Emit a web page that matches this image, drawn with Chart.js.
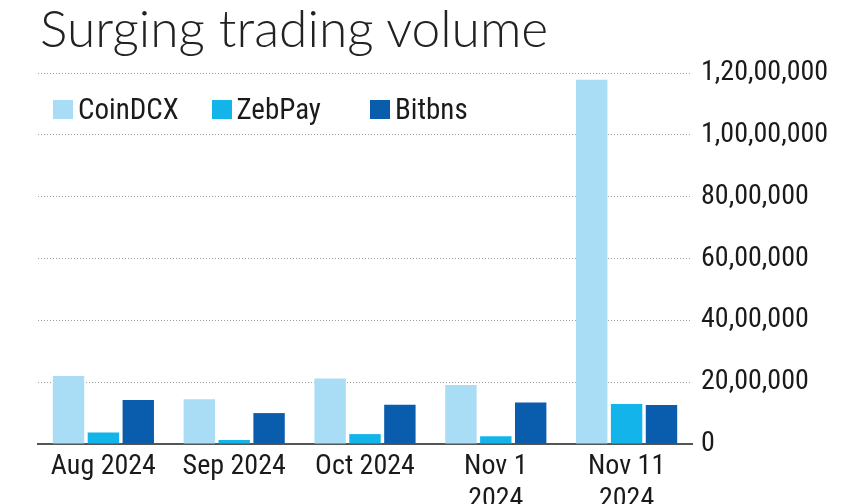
<!DOCTYPE html>
<html>
<head>
<meta charset="utf-8">
<script src="https://cdn.jsdelivr.net/npm/chart.js@4.4.1/dist/chart.umd.min.js"></script>
<style>
  html, body { margin: 0; padding: 0; background: #ffffff; }
  #wrap { position: relative; width: 852px; height: 504px; overflow: hidden; }
  #title { position: absolute; left: 40px; top: -1px; font-family: Lato, "Open Sans", sans-serif; font-weight: 300; font-size: 51.5px; line-height: 1.1; color: #222; white-space: nowrap; }
  #legend { position: absolute; left: 53px; top: 89px; height: 40px; width: 480px; font-family: "Liberation Sans Narrow", "Roboto Condensed", "DejaVu Sans Condensed", sans-serif; font-size: 29px; color: #1a1a1a; }
  .item { position: absolute; top: 0; height: 40px; display: flex; align-items: center; width: 158px; }
  .box { width: 20px; height: 19px; margin-right: 5px; flex: none; }
  canvas { position: absolute; left: 0; top: 0; }
</style>
</head>
<body>
<div id="wrap">
  <canvas id="c" width="852" height="504"></canvas>
  <div id="title">Surging trading volume</div>
  <div id="legend"></div>
</div>
<script>
const categories = [["Aug 2024"], ["Sep 2024"], ["Oct 2024"], ["Nov 1", "2024"], ["Nov 11", "2024"]];
const seriesNames = ["CoinDCX", "ZebPay", "Bitbns"];
const coinDCX = [2200000, 1450000, 2120000, 1910000, 11780000];
const zebPay  = [370000, 130000, 320000, 250000, 1290000];
const bitbns  = [1420000, 1000000, 1270000, 1340000, 1260000];
const tickValues = [0, 2000000, 4000000, 6000000, 8000000, 10000000, 12000000];
const tickLabels = ["0", "20,00,000", "40,00,000", "60,00,000", "80,00,000", "1,00,00,000", "1,20,00,000"];
const colors = ["#a9ddf6", "#12b4ea", "#0a5cad"];

const axisFont = { family: '"Liberation Sans Narrow", "Roboto Condensed", "DejaVu Sans Condensed", sans-serif', size: 28 };

const datasets = [coinDCX, zebPay, bitbns].map((d, i) => ({
  label: seriesNames[i],
  data: d,
  backgroundColor: colors[i],
  borderWidth: 0,
  categoryPercentage: 0.8,
  barPercentage: 0.9
}));

// HTML legend built from the series
const legend = document.getElementById('legend');
seriesNames.forEach((n, i) => {
  const it = document.createElement('div'); it.className = 'item';
  it.style.left = (i * 158.5) + 'px';
  const b = document.createElement('div'); b.className = 'box'; b.style.background = colors[i];
  const t = document.createElement('span'); t.textContent = n;
  it.appendChild(b); it.appendChild(t); legend.appendChild(it);
});

new Chart(document.getElementById('c'), {
  type: 'bar',
  data: { labels: categories, datasets },
  options: {
    responsive: false,
    animation: false,
    layout: { padding: { top: 73, left: 38, right: 0, bottom: 0 } },
    plugins: { legend: { display: false }, tooltip: { enabled: false }, title: { display: false } },
    scales: {
      x: {
        grid: { display: false, drawTicks: false },
        border: { display: true, color: '#555555', width: 2 },
        ticks: { color: '#1a1a1a', font: axisFont, padding: 6, maxRotation: 0, autoSkip: false },
        afterFit: (s) => { s.height = 60; }
      },
      y: {
        position: 'right',
        min: 0, max: 12000000,
        afterBuildTicks: (s) => { s.ticks = tickValues.map(v => ({ value: v })); },
        grid: { color: '#9a9a9a', lineWidth: 1, drawTicks: false },
        border: { display: false, dash: [1, 2] },
        ticks: {
          color: '#1a1a1a', font: axisFont, padding: 9,
          callback: (v) => { const k = tickValues.indexOf(v); return k >= 0 ? tickLabels[k] : ''; }
        },
        afterFit: (s) => { s.width = 160; }
      }
    }
  }
});
</script>
</body>
</html>
